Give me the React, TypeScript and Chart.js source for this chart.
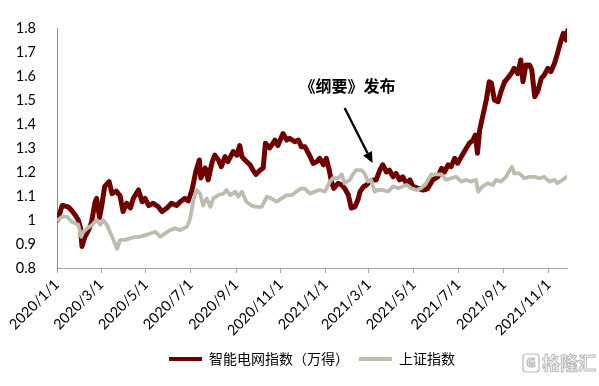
import React, { useEffect, useRef } from "react";
import { Chart, registerables } from "chart.js";

Chart.register(...registerables);

const START_UTC = Date.UTC(2020, 0, 1);
const DAY_MS = 86400000;
const dateToDay = (s: string) => {
  const [yy, mm, dd] = s.split("/").map(Number);
  return Math.round((Date.UTC(yy, mm - 1, dd) - START_UTC) / DAY_MS);
};

// x-axis tick labels (dates)
const xTickLabels = [
  "2020/1/1", "2020/3/1", "2020/5/1", "2020/7/1", "2020/9/1", "2020/11/1",
  "2021/1/1", "2021/3/1", "2021/5/1", "2021/7/1", "2021/9/1", "2021/11/1",
];
const xStartDate = "2020/1/1";
const xEndDate = "2021/11/26";

// y-axis
const yMin = 0.8;
const yMax = 1.8;
const yStep = 0.1;

const seriesNames = ["智能电网指数（万得）", "上证指数"];

// 智能电网指数 — days since 2020/1/1, and index values
const gridDays = [
  1, 4, 7, 9, 15, 20, 25, 29, 32, 34, 38, 43, 47, 52, 54, 58, 61, 65, 71, 75,
  81, 86, 90, 95, 100, 104, 111, 116, 120, 125, 131, 138, 143, 150, 156, 163, 168, 174, 179, 184,
  189, 194, 196, 202, 206, 211, 215, 220, 224, 229, 233, 240, 245, 249, 252, 256, 263, 267, 271, 277,
  281, 284, 290, 297, 301, 308, 313, 317, 324, 329, 333, 338, 345, 349, 354, 358, 363, 367, 371, 374,
  377, 383, 388, 392, 397, 401, 406, 410, 413, 418, 422, 426, 431, 435, 440, 444, 449, 453, 458, 462,
  467, 471, 476, 481, 485, 492, 499, 505, 512, 519, 524, 528, 533, 537, 542, 546, 551, 558, 562, 567,
  570, 573, 576, 580, 585, 589, 592, 596, 601, 605, 610, 614, 619, 623, 628, 632, 635, 639, 644, 647,
  651, 655, 660, 664, 669, 673, 678, 682, 687, 690, 694, 696,
];
const gridValues = [
  1.0, 1.03, 1.06, 1.06, 1.055, 1.04, 1.02, 1.0, 0.967, 0.89, 0.93, 0.958, 0.99, 1.076, 1.09, 1.01, 1.06, 1.14, 1.16, 1.11,
  1.12, 1.1, 1.035, 1.07, 1.05, 1.09, 1.125, 1.076, 1.09, 1.06, 1.07, 1.055, 1.035, 1.05, 1.07, 1.06, 1.076, 1.09, 1.08, 1.125,
  1.2, 1.25, 1.175, 1.217, 1.167, 1.237, 1.27, 1.25, 1.222, 1.264, 1.243, 1.285, 1.27, 1.31, 1.264, 1.25, 1.23, 1.208, 1.19, 1.208,
  1.217, 1.32, 1.3, 1.333, 1.31, 1.36, 1.333, 1.34, 1.326, 1.333, 1.305, 1.305, 1.264, 1.236, 1.243, 1.257, 1.23, 1.257, 1.208, 1.16,
  1.132, 1.153, 1.146, 1.132, 1.104, 1.05, 1.055, 1.083, 1.118, 1.14, 1.146, 1.16, 1.167, 1.167, 1.208, 1.23, 1.2, 1.208, 1.18, 1.194,
  1.167, 1.18, 1.153, 1.167, 1.14, 1.132, 1.125, 1.13, 1.167, 1.18, 1.215, 1.2, 1.23, 1.222, 1.257, 1.236, 1.264, 1.3, 1.32, 1.333,
  1.354, 1.278, 1.375, 1.43, 1.5, 1.576, 1.57, 1.5, 1.493, 1.535, 1.576, 1.59, 1.61, 1.632, 1.61, 1.667, 1.576, 1.646, 1.646, 1.625,
  1.514, 1.535, 1.59, 1.604, 1.632, 1.618, 1.653, 1.694, 1.75, 1.778, 1.75, 1.79,
];

// 上证指数 (normalised) — days since 2020/1/1, and values
const shDays = [
  1, 7, 14, 20, 25, 29, 33, 36, 41, 48, 54, 59, 63, 68, 73, 77, 82, 86, 93, 100,
  107, 113, 120, 127, 134, 141, 147, 154, 161, 168, 177, 181, 186, 190, 195, 199, 204, 209, 213, 220,
  227, 231, 236, 243, 247, 252, 258, 265, 272, 279, 286, 292, 299, 306, 313, 320, 326, 333, 338, 345,
  351, 358, 365, 372, 376, 383, 388, 392, 399, 403, 408, 415, 419, 424, 428, 433, 437, 444, 451, 458,
  465, 471, 476, 483, 490, 496, 503, 510, 517, 524, 530, 537, 544, 551, 558, 564, 571, 574, 580, 587,
  594, 598, 605, 612, 617, 620, 623, 630, 637, 644, 651, 657, 664, 671, 678, 682, 689, 695,
];
const shValues = [
  1.0, 1.014, 1.014, 0.993, 0.986, 0.98, 0.93, 0.951, 0.965, 0.98, 1.0, 0.98, 1.0, 0.98, 0.944, 0.917, 0.88, 0.917, 0.917, 0.924,
  0.93, 0.93, 0.937, 0.944, 0.951, 0.93, 0.944, 0.958, 0.965, 0.958, 0.972, 1.0, 1.083, 1.125, 1.11, 1.06, 1.09, 1.055, 1.09, 1.104,
  1.11, 1.125, 1.104, 1.118, 1.097, 1.118, 1.076, 1.06, 1.055, 1.055, 1.097, 1.09, 1.076, 1.09, 1.104, 1.104, 1.118, 1.132, 1.13, 1.11,
  1.118, 1.125, 1.118, 1.16, 1.174, 1.174, 1.19, 1.153, 1.167, 1.19, 1.208, 1.208, 1.194, 1.16, 1.167, 1.118, 1.125, 1.125, 1.118, 1.14,
  1.132, 1.14, 1.146, 1.132, 1.125, 1.132, 1.153, 1.19, 1.19, 1.19, 1.167, 1.174, 1.18, 1.16, 1.167, 1.16, 1.167, 1.118, 1.14, 1.153,
  1.146, 1.167, 1.16, 1.18, 1.208, 1.222, 1.194, 1.194, 1.174, 1.18, 1.18, 1.174, 1.18, 1.16, 1.167, 1.153, 1.167, 1.18,
];

// annotation: "《纲要》发布"
const annotationText = "《纲要》发布";
const annotationTextAt = { day: 396, value: 1.558 };
const arrowFrom = { day: 392, value: 1.467 };
const arrowTo = { day: 430, value: 1.2375 };

const watermarkText = "格隆汇";

const RED = "#6E0000";
const GREY = "#BEBCAD";
const TICK_FONT = { family: "Lato, 'Noto Sans', sans-serif", size: 14.5 };

const annotationPlugin = {
  id: "annotationArrow",
  afterDatasetsDraw(chart: any) {
    const { ctx, scales } = chart;
    const xs = scales.x;
    const ys = scales.y;
    const x1 = xs.getPixelForValue(arrowFrom.day);
    const y1 = ys.getPixelForValue(arrowFrom.value);
    const x2 = xs.getPixelForValue(arrowTo.day);
    const y2 = ys.getPixelForValue(arrowTo.value);
    const ang = Math.atan2(y2 - y1, x2 - x1);
    const headLen = 11;
    const headW = 5;
    const bx = x2 - headLen * Math.cos(ang);
    const by = y2 - headLen * Math.sin(ang);
    ctx.save();
    ctx.strokeStyle = "#000";
    ctx.lineWidth = 2.3;
    ctx.beginPath();
    ctx.moveTo(x1, y1);
    ctx.lineTo(bx, by);
    ctx.stroke();
    ctx.fillStyle = "#000";
    ctx.beginPath();
    ctx.moveTo(x2, y2);
    ctx.lineTo(bx + headW * Math.sin(ang), by - headW * Math.cos(ang));
    ctx.lineTo(bx - headW * Math.sin(ang), by + headW * Math.cos(ang));
    ctx.closePath();
    ctx.fill();
    ctx.font = "bold 16px 'Noto Sans CJK SC', sans-serif";
    ctx.textAlign = "center";
    ctx.textBaseline = "middle";
    ctx.fillText(
      annotationText,
      xs.getPixelForValue(annotationTextAt.day),
      ys.getPixelForValue(annotationTextAt.value)
    );
    ctx.restore();
  },
};

const watermarkPlugin = {
  id: "watermark",
  afterDraw(chart: any) {
    const { ctx, width, height } = chart;
    ctx.save();
    const bx = width - 76;
    const by = height - 32;
    ctx.strokeStyle = "#b8b8b8";
    ctx.lineWidth = 1.2;
    ctx.beginPath();
    ctx.roundRect ? ctx.roundRect(bx, by, 16, 18, 3) : ctx.rect(bx, by, 16, 18);
    ctx.stroke();
    ctx.font = "bold 13px 'Noto Sans', sans-serif";
    ctx.textAlign = "center";
    ctx.textBaseline = "middle";
    ctx.strokeText("G", bx + 8, by + 9.5);
    ctx.font = "bold 18px 'Noto Sans CJK SC', sans-serif";
    ctx.textAlign = "left";
    ctx.lineWidth = 1;
    ctx.fillStyle = "#ffffff";
    ctx.fillText(watermarkText, bx + 19, by + 9.5);
    ctx.strokeText(watermarkText, bx + 19, by + 9.5);
    ctx.restore();
  },
};

export default function App() {
  const canvasRef = useRef<HTMLCanvasElement | null>(null);

  useEffect(() => {
    const canvas = canvasRef.current;
    if (!canvas) return;
    const tickDays = xTickLabels.map(dateToDay);
    const chart = new Chart(canvas, {
      type: "line",
      data: {
        datasets: [
          {
            label: seriesNames[0],
            data: gridDays.map((d, i) => ({ x: d, y: gridValues[i] })),
            borderColor: RED,
            backgroundColor: RED,
            borderWidth: 5,
            pointRadius: 0,
            tension: 0,
            borderJoinStyle: "round",
            borderCapStyle: "round",
            fill: false,
            order: 1,
          },
          {
            label: seriesNames[1],
            data: shDays.map((d, i) => ({ x: d, y: shValues[i] })),
            borderColor: GREY,
            backgroundColor: GREY,
            borderWidth: 3.8,
            pointRadius: 0,
            tension: 0,
            borderJoinStyle: "round",
            borderCapStyle: "round",
            fill: false,
            order: 0,
          },
        ],
      },
      options: {
        responsive: false,
        animation: false,
        devicePixelRatio: 1,
        layout: { padding: { top: 28, right: 32, bottom: 10, left: 0 } },
        scales: {
          x: {
            type: "linear",
            min: dateToDay(xStartDate),
            max: dateToDay(xEndDate),
            afterBuildTicks: (scale: any) => {
              scale.ticks = tickDays.map((v) => ({ value: v }));
            },
            afterFit: (scale: any) => {
              scale.height = 74;
            },
            ticks: {
              autoSkip: false,
              minRotation: 45,
              maxRotation: 45,
              padding: 3,
              color: "#000",
              font: TICK_FONT,
              callback: (v: any) => {
                const idx = tickDays.indexOf(Number(v));
                return idx >= 0 ? xTickLabels[idx] : "";
              },
            },
            grid: {
              display: true,
              drawOnChartArea: false,
              drawTicks: true,
              tickLength: 5,
              color: "#a6a6a6",
            },
            border: { display: true, color: "#a6a6a6", width: 1 },
          },
          y: {
            min: yMin,
            max: yMax,
            afterFit: (scale: any) => {
              scale.width = 57;
            },
            ticks: {
              stepSize: yStep,
              padding: 13,
              color: "#000",
              font: TICK_FONT,
              callback: (v: any) => String(Math.round(Number(v) * 10) / 10),
            },
            grid: { display: false },
            border: { display: true, color: "#8c8c8c", width: 1 },
          },
        },
        plugins: {
          legend: {
            position: "bottom",
            fullSize: false,
            labels: {
              boxWidth: 33,
              boxHeight: 4,
              padding: 10,
              color: "#000",
              font: { family: "'Noto Sans CJK SC', sans-serif", size: 14 },
              sort: (a: any, b: any) => a.datasetIndex - b.datasetIndex,
              generateLabels: (c: any) =>
                (Chart as any).defaults.plugins.legend.labels
                  .generateLabels(c)
                  .map((l: any) => ({ ...l, lineWidth: 0 })),
            },
          },
          tooltip: { enabled: false },
        },
      },
      plugins: [annotationPlugin, watermarkPlugin],
    } as any);
    return () => chart.destroy();
  }, []);

  return (
    <div style={{ position: "absolute", left: 0, top: 0, width: 599, height: 386, background: "#fff" }}>
      <canvas ref={canvasRef} width={599} height={386} style={{ display: "block" }} />
    </div>
  );
}
